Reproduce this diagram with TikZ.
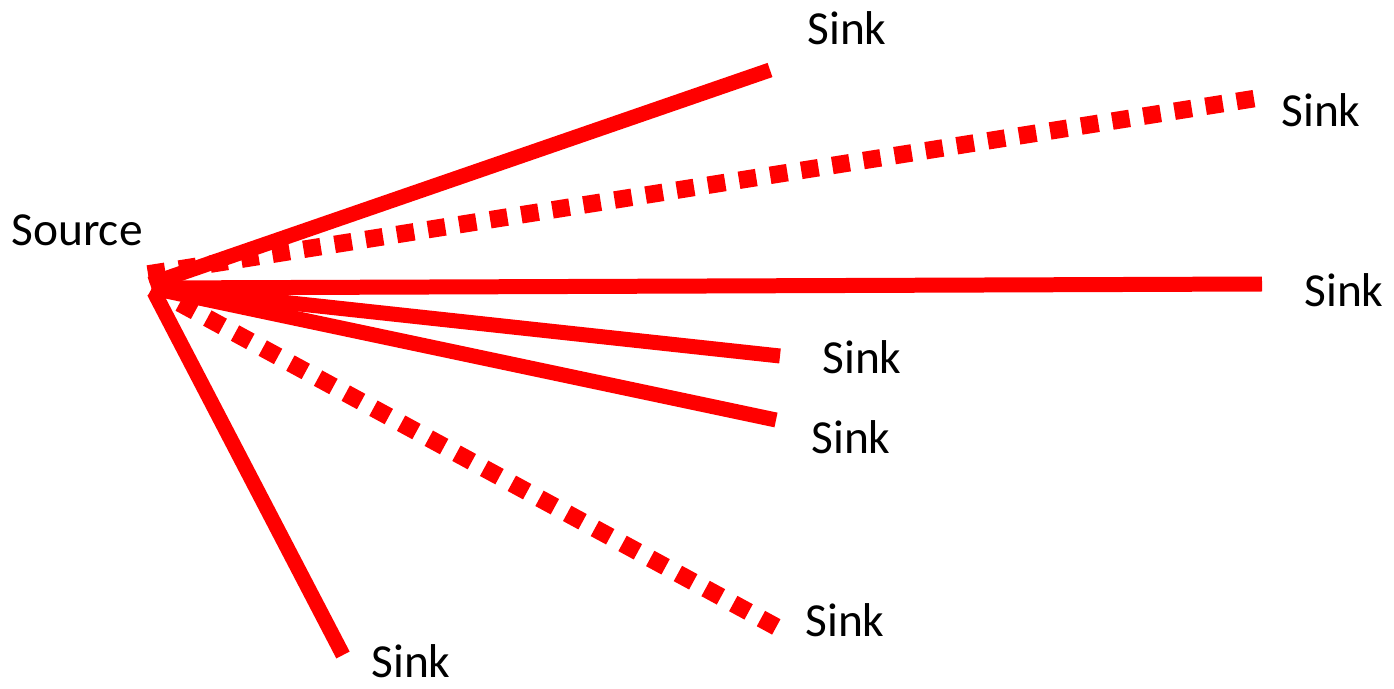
\documentclass[tikz,border=0pt]{standalone}
\usepackage{fontspec}
\setmainfont{Carlito}
\usetikzlibrary{positioning}

\begin{document}
\begin{tikzpicture}[
    x=0.02cm, y=-0.02cm,
    label/.style={inner sep=0pt, font=\fontsize{27}{32}\selectfont},
    link/.style={draw=red, line width=0.3cm},
    dlink/.style={link, line width=0.35cm, dash pattern=on 0.35cm off 0.28cm}
]
\useasboundingbox (0,0) rectangle (1394,689);

\coordinate (src) at (152,288);

\node[label] (source) at (77,230) {Source};

% end points of the links
\coordinate (e1) at (770,70);
\coordinate (e2) at (1258,98);
\coordinate (e3) at (1262,284);
\coordinate (e4) at (780,356);
\coordinate (e5) at (776,420);
\coordinate (e6) at (782,630);
\coordinate (e7) at (343,655);

\node[label] (sink1) at (847,28) {Sink};
\node[label] (sink2) at (1321,110) {Sink};
\node[label] (sink3) at (1344,290) {Sink};
\node[label] (sink4) at (862,357) {Sink};
\node[label] (sink5) at (851,437) {Sink};
\node[label] (sink6) at (845,620) {Sink};
\node[label] (sink7) at (411,661) {Sink};

\draw[link] ([shift={(-2,-4)}]src) -- (e1);
\draw[dlink] ([shift={(-4,-14)}]src) -- (e2);
\draw[link] (src) -- (e3);
\draw[link] (src) -- (e4);
\draw[link] (src) -- (e5);
\draw[dlink] (src) -- (e6);
\draw[link] ([shift={(2,4)}]src) -- (e7);

\end{tikzpicture}
\end{document}
